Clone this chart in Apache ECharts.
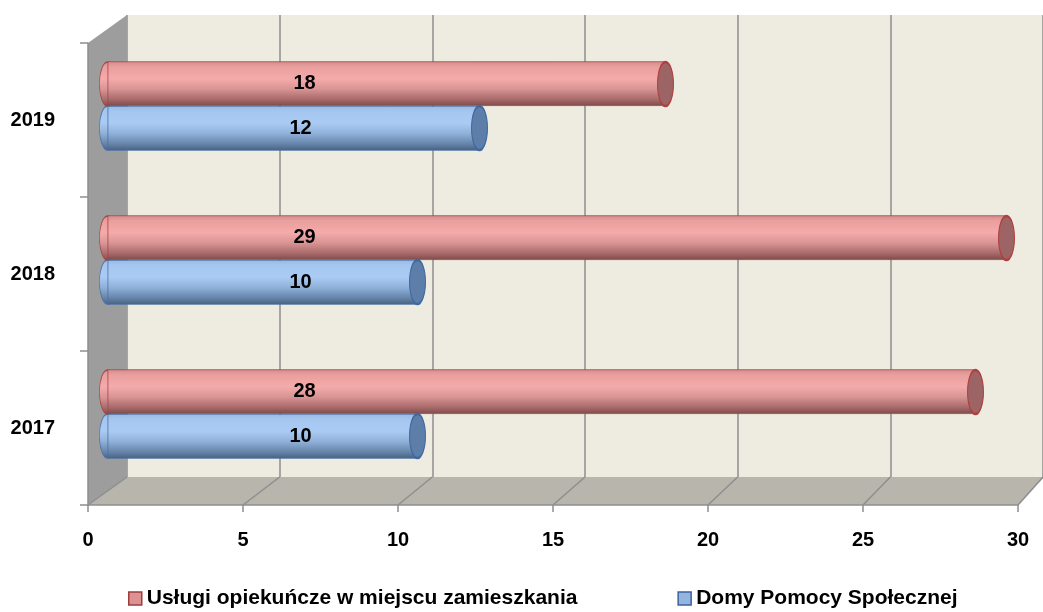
<!DOCTYPE html>
<html>
<head>
<meta charset="utf-8">
<script src="https://cdn.jsdelivr.net/npm/echarts@6/dist/echarts.min.js"></script>
<style>
html,body{margin:0;padding:0;background:#fff;}
#chart{width:1043px;height:612px;}
</style>
</head>
<body>
<div id="chart"></div>
<script>
// ---- data ----
const categories = ['2017', '2018', '2019'];
const uslugi = [28, 29, 18];   // Usługi opiekuńcze w miejscu zamieszkania
const domy = [10, 10, 12];     // Domy Pomocy Społecznej
const xTicks = [0, 5, 10, 15, 20, 25, 30];
const seriesNames = ['Usługi opiekuńcze w miejscu zamieszkania', 'Domy Pomocy Społecznej'];

const FONT = '"Liberation Sans", Arial, sans-serif';
const xMin = xTicks[0], xMax = xTicks[xTicks.length - 1], xStep = xTicks[1] - xTicks[0];

function grad(stops) {
  return new echarts.graphic.LinearGradient(0, 0, 0, 1, stops.map((c) => ({offset: c[0], color: c[1]})));
}
const redGrad = grad([[0, '#D08C8C'], [0.12, '#EA9E9E'], [0.38, '#F5ABAB'], [0.62, '#D99494'], [0.85, '#A86A6A'], [1, '#7E4A4A']]);
const blueGrad = grad([[0, '#98BAE4'], [0.12, '#A4C6EF'], [0.38, '#AACCF4'], [0.62, '#8FB0D8'], [0.85, '#6684AA'], [1, '#48607F']]);
const BAR_H = 44, CAP_W = 16;

const chart = echarts.init(document.getElementById('chart'), null, {renderer: 'canvas'});

const hiddenX = {type: 'value', min: xMin, max: xMax, interval: xStep, show: false};
const option = {
  backgroundColor: '#ffffff',
  animation: false,
  textStyle: {fontFamily: FONT},
  grid: [
    // back wall
    {left: 127, top: 15, width: 930, height: 462, show: true, backgroundColor: '#EEEBE0', borderWidth: 0, z: 0},
    // front axes
    {left: 88, top: 43, width: 930, height: 462},
    // bars (mid-depth plane)
    {left: 107.5, top: 29, width: 930, height: 462}
  ],
  xAxis: [
    {gridIndex: 0, type: 'value', min: xMin, max: xMax, interval: xStep,
      axisLine: {show: false}, axisTick: {show: false}, axisLabel: {show: false},
      splitLine: {show: true, lineStyle: {color: '#8E8E8E', width: 1.5}}},
    {gridIndex: 1, type: 'value', min: xMin, max: xMax, interval: xStep, z: 6,
      axisLine: {show: true, lineStyle: {color: '#8E8E8E', width: 1.5}},
      axisTick: {show: true, length: 7, lineStyle: {color: '#8E8E8E', width: 1.5}},
      axisLabel: {show: true, margin: 25, color: '#000', fontSize: 20, fontWeight: 'bold', fontFamily: FONT},
      splitLine: {show: false}},
    Object.assign({gridIndex: 2}, hiddenX)
  ],
  yAxis: [
    {gridIndex: 0, type: 'category', data: categories, show: false},
    {gridIndex: 1, type: 'category', data: categories, z: 6,
      axisLine: {show: true, lineStyle: {color: '#8E8E8E', width: 1.5}},
      axisTick: {show: true, length: 8, lineStyle: {color: '#8E8E8E', width: 1.5}},
      axisLabel: {show: true, margin: 33, color: '#000', fontSize: 20, fontWeight: 'bold', fontFamily: FONT},
      splitLine: {show: false}},
    {gridIndex: 2, type: 'category', data: categories, show: false}
  ],
  legend: {
    left: 128, top: 588, padding: 0, itemGap: 100, itemWidth: 13, itemHeight: 13,
    icon: 'rect',
    textStyle: {color: '#000', fontSize: 21, fontWeight: 'bold', fontFamily: FONT},
    data: [
      {name: seriesNames[0], itemStyle: {color: '#DD9191', borderColor: '#9C3E3E', borderWidth: 1.5}},
      {name: seriesNames[1], itemStyle: {color: '#93B5E0', borderColor: '#3C62A0', borderWidth: 1.5}}
    ]
  },
  series: [
    // left caps (under bars)
    {type: 'scatter', name: 'capL1', xAxisIndex: 2, yAxisIndex: 2, z: 3, silent: true,
      symbol: 'circle', symbolSize: [CAP_W, BAR_H], symbolOffset: [0, BAR_H / 2],
      itemStyle: {color: blueGrad, borderColor: '#4A72A8', borderWidth: 1, opacity: 1},
      data: categories.map((c) => [0, c])},
    {type: 'scatter', name: 'capL0', xAxisIndex: 2, yAxisIndex: 2, z: 3, silent: true,
      symbol: 'circle', symbolSize: [CAP_W, BAR_H], symbolOffset: [0, -BAR_H / 2],
      itemStyle: {color: redGrad, borderColor: '#A84444', borderWidth: 1, opacity: 1},
      data: categories.map((c) => [0, c])},
    // bars: first series sits at the top of each category band
    {type: 'bar', name: seriesNames[0], xAxisIndex: 2, yAxisIndex: 2, z: 4,
      barGap: '0%', barCategoryGap: '42%',
      itemStyle: {color: redGrad, borderColor: '#A84444', borderWidth: 0.8},
      label: {show: true, position: 'insideLeft', distance: 186, color: '#000', fontSize: 20, fontWeight: 'bold', fontFamily: FONT},
      data: uslugi},
    {type: 'bar', name: seriesNames[1], xAxisIndex: 2, yAxisIndex: 2, z: 4,
      barGap: '0%', barCategoryGap: '42%',
      itemStyle: {color: blueGrad, borderColor: '#4A72A8', borderWidth: 0.8},
      label: {show: true, position: 'insideLeft', distance: 182, color: '#000', fontSize: 20, fontWeight: 'bold', fontFamily: FONT},
      data: domy},
    // right caps
    {type: 'scatter', name: 'capR1', xAxisIndex: 2, yAxisIndex: 2, z: 5, silent: true,
      symbol: 'circle', symbolSize: [CAP_W, BAR_H], symbolOffset: [0, BAR_H / 2],
      itemStyle: {color: '#5D7EA8', borderColor: '#3E68A0', borderWidth: 1.5, opacity: 1},
      data: domy.map((v, i) => [v, categories[i]])},
    {type: 'scatter', name: 'capR0', xAxisIndex: 2, yAxisIndex: 2, z: 5, silent: true,
      symbol: 'circle', symbolSize: [CAP_W, BAR_H], symbolOffset: [0, -BAR_H / 2],
      itemStyle: {color: '#9C6464', borderColor: '#B03E3E', borderWidth: 1.5, opacity: 1},
      data: uslugi.map((v, i) => [v, categories[i]])}
  ]
};
chart.setOption(option);

// ---- 3D walls / floor from the axes' own scales ----
function px(gridIdx, v) { return chart.convertToPixel({xAxisIndex: gridIdx}, v); }
const backTop = 15, backBot = 477, frontTop = 43, frontBot = 505;
const bx0 = px(0, xMin), fx0 = px(1, xMin), bxMax = px(0, xMax), fxMax = px(1, xMax);
const graphics = [];
// left side wall
graphics.push({type: 'polygon', z: 1, silent: true,
  shape: {points: [[fx0, frontTop], [bx0, backTop], [bx0, backBot], [fx0, frontBot]]},
  style: {fill: '#9D9D9D', stroke: null}});
// floor
graphics.push({type: 'polygon', z: 1, silent: true,
  shape: {points: [[fx0, frontBot], [bx0, backBot], [bxMax, backBot], [fxMax, frontBot]]},
  style: {fill: '#B8B5AD', stroke: null}});
// floor diagonals at each tick
xTicks.forEach((t) => {
  graphics.push({type: 'line', z: 2, silent: true,
    shape: {x1: px(0, t), y1: backBot, x2: px(1, t), y2: frontBot},
    style: {stroke: '#8E8E8E', lineWidth: 1.5}});
});
chart.setOption({graphic: graphics});
</script>
</body>
</html>
